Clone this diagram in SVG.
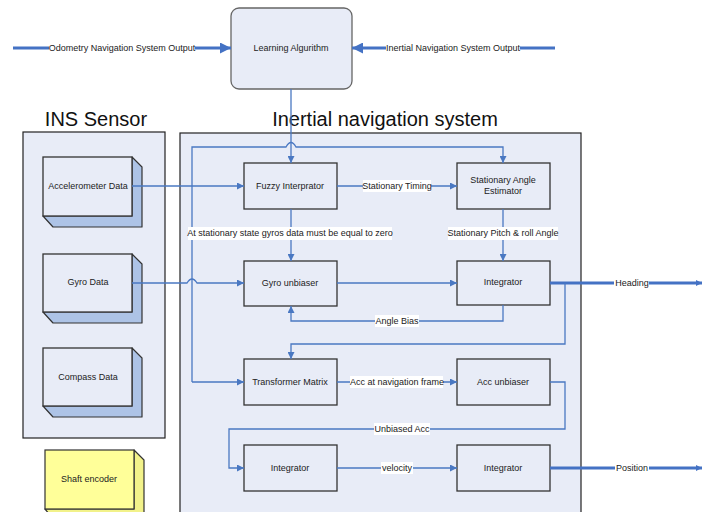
<svg xmlns="http://www.w3.org/2000/svg" width="702" height="512" viewBox="0 0 702 512">
  <style>
    .box { fill: #e8ecf7; stroke: #333; stroke-width: 1.3; }
    .cont { fill: #e8ecf7; stroke: #222; stroke-width: 1.2; }
    .side { fill: #adc3e6; stroke: #333; stroke-width: 1.2; stroke-linejoin: round; }
    .yfront { fill: #ffff99; stroke: #333; stroke-width: 1.2; }
    .yside { fill: #f2f28a; stroke: #333; stroke-width: 1.2; stroke-linejoin: round; }
    .t { font-family: "Liberation Sans", Arial, sans-serif; font-size: 9px; fill: #222; text-anchor: middle; }
    .title { font-family: "Liberation Sans", Arial, sans-serif; font-size: 20px; fill: #111; text-anchor: middle; }
    .c { fill: none; stroke: #4a78c2; stroke-width: 1.3; }
    .ct { fill: none; stroke: #4472c4; stroke-width: 3; }
    .lbg { fill: #ffffff; }
  </style>
  <defs>
    <marker id="ah" viewBox="0 0 10 10" refX="10" refY="5" markerWidth="8" markerHeight="7" markerUnits="userSpaceOnUse" orient="auto">
      <path d="M0,0 L10,5 L0,10 Z" fill="#4a78c2"/>
    </marker>
    <marker id="ahb" viewBox="0 0 10 10" refX="10" refY="5" markerWidth="16" markerHeight="11" markerUnits="userSpaceOnUse" orient="auto">
      <path d="M0,0 L10,5 L0,10 Z" fill="#4472c4"/>
    </marker>
    <marker id="ahs" viewBox="0 0 10 10" refX="10" refY="5" markerWidth="6" markerHeight="9" markerUnits="userSpaceOnUse" orient="auto">
      <path d="M0,0 L10,5 L0,10 Z" fill="#4472c4"/>
    </marker>
  </defs>

  <rect width="702" height="512" fill="#ffffff"/>

  <!-- titles -->
  <text class="title" x="96" y="126">INS Sensor</text>
  <text class="title" x="385" y="126">Inertial navigation system</text>

  <!-- containers -->
  <g id="ins-sensor">
    <rect class="cont" x="23" y="132" width="142" height="306"/>
  </g>
  <g id="inertial-nav-system">
    <rect class="cont" x="180" y="133" width="401" height="385"/>
  </g>

  <!-- learning algorithm -->
  <g id="learning-algorithm">
    <rect x="231" y="8" width="121" height="81" rx="8" ry="8" fill="#e8ecf7" stroke="#666" stroke-width="1.3"/>
    <text class="t" x="291" y="51">Learning Algurithm</text>
  </g>

  <!-- sensor blocks -->
  <g id="accelerometer-data">
    <path class="side" d="M132,157 L142,167 L142,227 L53,227 L43,216 L132,216 Z"/>
    <rect class="box" x="43" y="157" width="89" height="59"/>
    <text class="t" x="88" y="189">Accelerometer Data</text>
  </g>
  <g id="gyro-data">
    <path class="side" d="M132,254 L142,264 L142,323 L53,323 L43,312 L132,312 Z"/>
    <rect class="box" x="43" y="254" width="89" height="58"/>
    <text class="t" x="88" y="285">Gyro Data</text>
  </g>
  <g id="compass-data">
    <path class="side" d="M132,348 L142,358 L142,417 L53,417 L43,406 L132,406 Z"/>
    <rect class="box" x="43" y="348" width="89" height="58"/>
    <text class="t" x="88" y="380">Compass Data</text>
  </g>
  <g id="shaft-encoder">
    <path class="yside" d="M134,450 L144,460 L144,520 L54,520 L45,509 L134,509 Z"/>
    <rect class="yfront" x="45" y="450" width="89" height="59"/>
    <text class="t" x="89" y="482">Shaft encoder</text>
  </g>

  <!-- processing blocks -->
  <g id="fuzzy-interprator">
    <rect class="box" x="244" y="163" width="93" height="46"/>
    <text class="t" x="290" y="189">Fuzzy Interprator</text>
  </g>
  <g id="stationary-angle-estimator">
    <rect class="box" x="457" y="163" width="93" height="46"/>
    <text class="t" x="503" y="183">Stationary Angle</text>
    <text class="t" x="503" y="194">Estimator</text>
  </g>
  <g id="gyro-unbiaser">
    <rect class="box" x="244" y="261" width="93" height="45"/>
    <text class="t" x="290" y="286">Gyro unbiaser</text>
  </g>
  <g id="integrator-attitude">
    <rect class="box" x="457" y="261" width="93" height="44"/>
    <text class="t" x="503" y="285">Integrator</text>
  </g>
  <g id="transformer-matrix">
    <rect class="box" x="244" y="359" width="93" height="46"/>
    <text class="t" x="290" y="385">Transformer Matrix</text>
  </g>
  <g id="acc-unbiaser">
    <rect class="box" x="457" y="359" width="93" height="46"/>
    <text class="t" x="503" y="385">Acc unbiaser</text>
  </g>
  <g id="integrator-velocity">
    <rect class="box" x="244" y="445" width="93" height="46"/>
    <text class="t" x="290" y="471">Integrator</text>
  </g>
  <g id="integrator-position">
    <rect class="box" x="457" y="445" width="93" height="46"/>
    <text class="t" x="503" y="471">Integrator</text>
  </g>

  <!-- connectors -->
  <g id="connectors">
    <!-- external inputs to the learning algorithm -->
    <path class="ct" d="M13,48 L231,48" marker-end="url(#ahb)"/>
    <path class="ct" d="M555,48 L352,48" marker-end="url(#ahb)"/>

    <!-- learning algorithm down to fuzzy interprator -->
    <path class="c" d="M291,89 L291,163" marker-end="url(#ah)"/>
    <!-- distribution line: to stationary angle estimator and transformer matrix -->
    <path class="c" d="M192,382 L192,147 L286,147 Q291,138 296,147 L503,147 L503,163" marker-end="url(#ah)"/>
    <path class="c" d="M192,382 L244,382" marker-end="url(#ah)"/>

    <!-- sensor data in -->
    <path class="c" d="M132,186 L244,186" marker-end="url(#ah)"/>
    <path class="c" d="M132,283 L187,283 Q192,275 197,283 L244,283" marker-end="url(#ah)"/>

    <!-- fuzzy interprator outputs -->
    <path class="c" d="M337,186 L457,186" marker-end="url(#ah)"/>
    <path class="c" d="M291,209 L291,261" marker-end="url(#ah)"/>

    <!-- stationary angle estimator to integrator -->
    <path class="c" d="M503,209 L503,261" marker-end="url(#ah)"/>

    <!-- gyro unbiaser to integrator -->
    <path class="c" d="M337,283 L457,283" marker-end="url(#ah)"/>

    <!-- angle bias feedback -->
    <path class="c" d="M503,305 L503,321 L291,321 L291,306" marker-end="url(#ah)"/>

    <!-- heading output -->
    <path class="ct" d="M550,283 L702,283" marker-end="url(#ahs)"/>
    <path class="c" d="M565,283 L565,344 L291,344 L291,359" marker-end="url(#ah)"/>

    <!-- acceleration chain -->
    <path class="c" d="M337,382 L457,382" marker-end="url(#ah)"/>
    <path class="c" d="M550,382 L565,382 L565,429 L229,429 L229,468 L244,468" marker-end="url(#ah)"/>
    <path class="c" d="M337,468 L457,468" marker-end="url(#ah)"/>

    <!-- position output -->
    <path class="ct" d="M550,468 L702,468" marker-end="url(#ahs)"/>
  </g>

  <!-- connector labels -->
  <g id="labels">
    <rect class="lbg" x="49" y="42" width="146" height="12"/>
    <text class="t" x="122" y="51">Odometry Navigation System Output</text>
    <rect class="lbg" x="386" y="42" width="134" height="12"/>
    <text class="t" x="453" y="51">Inertial Navigation System Output</text>

    <rect class="lbg" x="363" y="180" width="68" height="12"/>
    <text class="t" x="397" y="189">Stationary Timing</text>

    <rect class="lbg" x="188" y="227" width="204" height="13"/>
    <text class="t" x="290" y="236">At stationary state gyros data must be equal to zero</text>

    <rect class="lbg" x="448" y="227" width="110" height="13"/>
    <text class="t" x="503" y="236">Stationary Pitch &amp; roll Angle</text>

    <rect class="lbg" x="614" y="277" width="35" height="12"/>
    <text class="t" x="632" y="286">Heading</text>

    <rect class="lbg" x="375" y="315" width="44" height="12"/>
    <text class="t" x="397" y="324">Angle Bias</text>

    <rect class="lbg" x="350" y="376" width="93" height="12"/>
    <text class="t" x="397" y="385">Acc at navigation frame</text>

    <rect class="lbg" x="374" y="423" width="56" height="12"/>
    <text class="t" x="402" y="432">Unbiased Acc</text>

    <rect class="lbg" x="381" y="462" width="32" height="12"/>
    <text class="t" x="397" y="471">velocity</text>

    <rect class="lbg" x="615" y="462" width="34" height="12"/>
    <text class="t" x="632" y="471">Position</text>
  </g>
</svg>
